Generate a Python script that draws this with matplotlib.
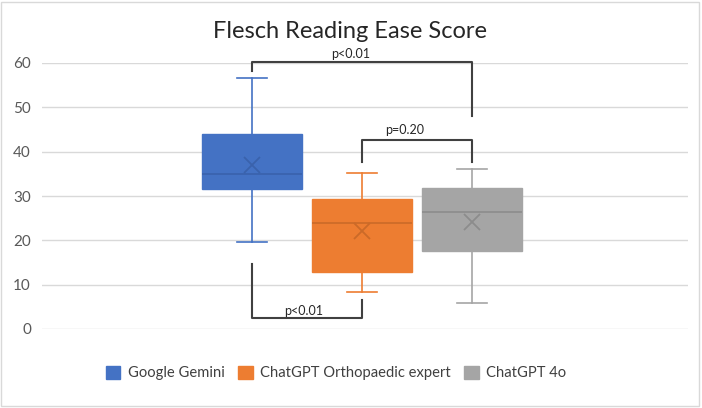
import matplotlib
matplotlib.use("Agg")
import matplotlib.pyplot as plt
from matplotlib.patches import Rectangle, Patch

# ---- data ----
categories = ["Google Gemini", "ChatGPT Orthopaedic expert", "ChatGPT 4o"]
whisker_low = [19.6, 8.4, 5.9]
q1 = [31.5, 12.8, 17.7]
median = [34.9, 23.8, 26.3]
q3 = [43.9, 29.3, 31.9]
whisker_high = [56.7, 35.1, 36.1]
mean = [37.0, 22.0, 24.2]
yticks = [0, 10, 20, 30, 40, 50, 60]
title = "Flesch Reading Ease Score"
p_labels = ["p<0.01", "p=0.20", "p<0.01"]

colors = ["#4472C4", "#ED7D31", "#A5A5A5"]
dark = ["#3A62AC", "#CB6A28", "#8C8C8C"]

plt.rcParams['font.family'] = ['Lato', 'DejaVu Sans']

fig = plt.figure(figsize=(7.02, 4.08), dpi=100)
fig.patches.append(Rectangle((0.002, 0.004), 0.994, 0.99, transform=fig.transFigure,
                             fill=False, edgecolor="#D9D9D9", lw=1))

ax = fig.add_axes([42/702, (408-329)/408, (688-42)/702, 266/408])
for s in ax.spines.values():
    s.set_visible(False)

stats = []
for i in range(3):
    stats.append(dict(whislo=whisker_low[i], q1=q1[i], med=median[i], q3=q3[i],
                      whishi=whisker_high[i], mean=mean[i], label=categories[i]))

for i, st in enumerate(stats):
    ax.bxp([st], positions=[i + 1], widths=0.909, showmeans=True, patch_artist=True,
           manage_ticks=False,
           boxprops=dict(facecolor=colors[i], edgecolor=colors[i], lw=1),
           medianprops=dict(color=dark[i], lw=1.2),
           whiskerprops=dict(color=colors[i], lw=1.2),
           capprops=dict(color=colors[i], lw=1.2),
           capwidths=0.27,
           meanprops=dict(marker='x', markeredgecolor=dark[i], markersize=11, markeredgewidth=1.3),
           showfliers=False)

ax.set_ylim(0, 60)
ax.set_xlim(-0.909, 4.964)
ax.set_yticks(yticks)
ax.set_xticks([])
ax.tick_params(axis='y', length=0, labelsize=11, labelcolor="#595959", pad=8)
ax.grid(axis='y', color="#D9D9D9", lw=1)
ax.set_axisbelow(True)

lc = "#404040"
# bracket 1: Gemini vs 4o (top)
ax.plot([1, 1, 3, 3], [58.2, 60.3, 60.3, 48.1], color=lc, lw=1.5, clip_on=False)
ax.text(1.9, 60.6, p_labels[0], ha='center', va='bottom', fontsize=9, color="#262626")
# bracket 2: Orthopaedic vs 4o
ax.plot([2, 2, 3, 3], [37.7, 42.7, 42.7, 37.7], color=lc, lw=1.5)
ax.text(2.39, 44.8, p_labels[1], ha='center', va='center', fontsize=9, color="#262626")
# bracket 3: Gemini vs Orthopaedic (bottom)
ax.plot([1, 1, 2, 2], [14.7, 2.5, 2.5, 6.5], color=lc, lw=1.5)
ax.text(1.47, 4.1, p_labels[2], ha='center', va='center', fontsize=9, color="#262626")

fig.text(350/702, 1 - 32/408, title, ha='center', va='center', fontsize=17, color="#262626")

handles = [Patch(facecolor=c, edgecolor=c) for c in colors]
fig.legend(handles, categories, loc='center', bbox_to_anchor=(336/702, 1 - 373/408),
           ncol=3, frameon=False, fontsize=10.6, handlelength=1.0, handleheight=1.0,
           handletextpad=0.5, columnspacing=0.9, labelcolor="#404040")

fig.savefig("out.png", dpi=100)
